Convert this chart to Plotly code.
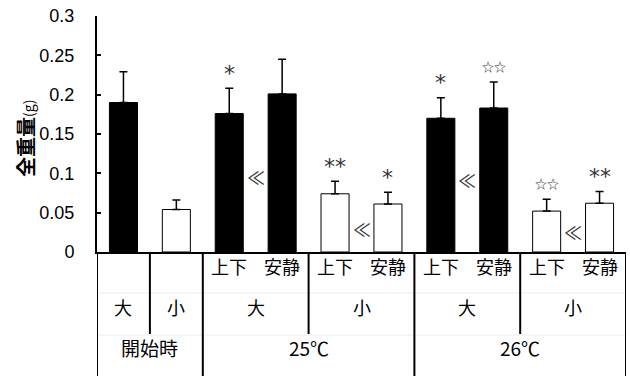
import plotly.graph_objects as go

# ---- data ----
groups = ["開始時", "開始時", "25℃", "25℃", "25℃", "25℃", "26℃", "26℃", "26℃", "26℃"]
sizes = ["大", "小", "大", "大", "小", "小", "大", "大", "小", "小"]
methods = ["", "", "上下", "安静", "上下", "安静", "上下", "安静", "上下", "安静"]
values = [0.190, 0.054, 0.176, 0.201, 0.074, 0.061, 0.170, 0.183, 0.052, 0.062]
errors = [0.039, 0.012, 0.032, 0.044, 0.016, 0.015, 0.026, 0.033, 0.015, 0.015]
filled = [True, False, True, True, False, False, True, True, False, False]
marks = ["", "", "*", "", "**", "*", "*", "☆☆", "☆☆", "**"]
much_less_between = [2.5, 4.5, 6.5, 8.5]
much_less_y = [0.095, 0.029, 0.092, 0.025]
y_ticks = [0, 0.05, 0.1, 0.15, 0.2, 0.25, 0.3]
y_tick_text = ["0", "0.05", "0.1", "0.15", "0.2", "0.25", "0.3"]
y_title = "<b>全重量</b><span style='font-size:14px'>(g)</span>"

# ---- layout constants ----
W, H = 630, 376
ML, MR, MT, MB = 97, 4, 16, 124
PH = H - MT - MB
PW = W - ML - MR
def py(pix):  # pixel row -> paper y
    return (H - MB - pix) / PH
def px(pix):  # pixel column -> paper x
    return (pix - ML) / PW

CJK = "Noto Sans CJK JP"
x = list(range(len(values)))

fig = go.Figure()
fig.add_trace(go.Bar(
    x=x, y=values, width=0.53,
    marker=dict(color=["black" if f else "white" for f in filled],
                line=dict(color="black", width=1)),
    error_y=dict(type="data", symmetric=False, array=errors,
                 arrayminus=[0] * len(errors), color="black",
                 thickness=1.5, width=4),
    showlegend=False, hoverinfo="skip",
))

ann = []
for xi, v, e, m in zip(x, values, errors, marks):
    if not m:
        continue
    star = "☆" in m
    ann.append(dict(x=xi, y=v + e, xref="x", yref="y", text=m, showarrow=False,
                    yanchor="middle", yshift=15 if not star else 16,
                    font=dict(family=CJK if star else "DejaVu Sans",
                              size=12 if star else 22, color="#333333")))
for xm, ym in zip(much_less_between, much_less_y):
    ann.append(dict(x=xm, y=ym, xref="x", yref="y", text="≪", showarrow=False,
                    font=dict(family=CJK, size=18, color="#333333")))

# y-axis title
ann.append(dict(x=px(25), y=py(139), xref="paper", yref="paper", text=y_title,
                textangle=-90, showarrow=False, xanchor="center", yanchor="middle",
                font=dict(family=CJK, size=20, color="black")))

# table rows
row1, row2, row3 = 281, 322, 363
for xi, m in zip(x, methods):
    if m:
        ann.append(dict(x=xi, y=py(row1), xref="x", yref="paper", text=m,
                        showarrow=False, font=dict(family=CJK, size=18, color="black")))
# size row: merge consecutive same (group, size)
i = 0
while i < len(x):
    j = i
    while j + 1 < len(x) and groups[j + 1] == groups[i] and sizes[j + 1] == sizes[i] and methods[i]:
        j += 1
    ann.append(dict(x=(x[i] + x[j]) / 2, y=py(row2), xref="x", yref="paper",
                    text=sizes[i], showarrow=False,
                    font=dict(family=CJK, size=18, color="black")))
    i = j + 1
# group row
i = 0
while i < len(x):
    j = i
    while j + 1 < len(x) and groups[j + 1] == groups[i]:
        j += 1
    ann.append(dict(x=(x[i] + x[j]) / 2, y=py(row3), xref="x", yref="paper",
                    text=groups[i], showarrow=False,
                    font=dict(family=CJK, size=19, color="black")))
    i = j + 1

shapes = []
# faint row separators
for r in (293, 335):
    shapes.append(dict(type="line", xref="paper", yref="paper", x0=0, x1=1,
                       y0=py(r), y1=py(r), line=dict(color="#ececec", width=1)))
# vertical separators
bounds = [-0.5] + [k + 0.5 for k in range(len(x))]
for b in bounds:
    left = int(b - 0.5) if b > -0.5 else None
    right = int(b + 0.5) if b + 0.5 < len(x) else None
    if left is None or right is None or groups[left] != groups[right]:
        bottom = H + 5
    elif sizes[left] != sizes[right] or not methods[left]:
        bottom = 334
    else:
        continue
    shapes.append(dict(type="line", xref="x", yref="paper", x0=b, x1=b,
                       y0=py(H - MB), y1=py(bottom), line=dict(color="black", width=2)))

fig.update_layout(
    width=W, height=H, margin=dict(l=ML, r=MR, t=MT, b=MB),
    plot_bgcolor="white", paper_bgcolor="white",
    annotations=ann, shapes=shapes,
    xaxis=dict(range=[-0.5, len(x) - 0.5], showticklabels=False, ticks="",
               showgrid=False, zeroline=False, showline=True, automargin=False,
               linecolor="black", linewidth=2),
    yaxis=dict(range=[0, 0.3], tickvals=y_ticks, ticktext=y_tick_text,
               ticks="inside", ticklen=4, tickwidth=2, tickcolor="black",
               showgrid=False, zeroline=False, showline=True, automargin=False,
               linecolor="black", linewidth=2, ticklabelstandoff=17,
               tickfont=dict(family="Liberation Sans", size=18, color="black")),
)

fig.write_html("out.html", config={"displayModeBar": False},
               post_script="document.body.style.margin='0';document.body.style.overflow='hidden';")
